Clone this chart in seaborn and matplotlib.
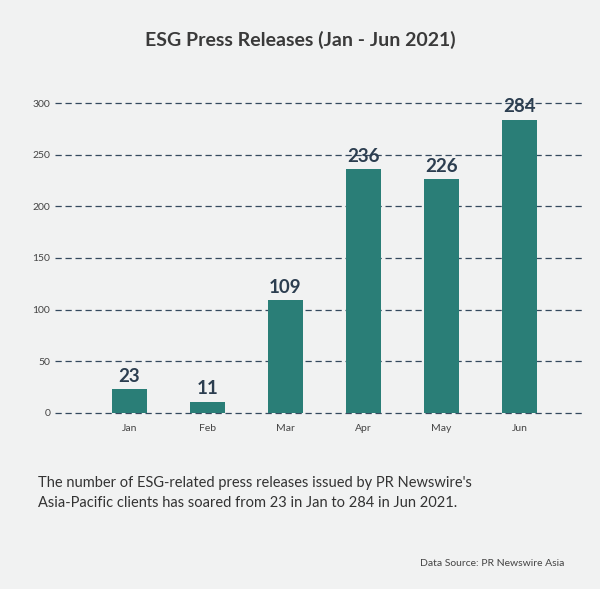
import matplotlib
matplotlib.use("Agg")
import matplotlib.pyplot as plt
import seaborn as sns
import pandas as pd

months = ["Jan", "Feb", "Mar", "Apr", "May", "Jun"]
releases = [23, 11, 109, 236, 226, 284]
y_ticks = [0, 50, 100, 150, 200, 250, 300]

BG = "#f1f2f2"
TEAL = "#2a7e77"
NAVY = "#2c3e50"

sns.set_style("white")
plt.rcParams["font.family"] = ["Lato", "DejaVu Sans"]

fig = plt.figure(figsize=(6.0, 5.89), dpi=100, facecolor=BG)
ax = fig.add_axes([0.092, 0.299, 0.878, 0.526], facecolor=BG)

df = pd.DataFrame({"month": months, "n": releases})
sns.barplot(data=df, x="month", y="n", color=TEAL, width=0.44, saturation=1,
            linewidth=0, ax=ax, zorder=3)

for i, v in enumerate(releases):
    ax.text(i, v + 4, str(v), ha="center", va="bottom", fontsize=13.5,
            fontweight="bold", color=NAVY, clip_on=False, zorder=4)

ax.set_ylim(0, 300)
ax.set_xlim(-0.95, 5.8)
ax.set_yticks(y_ticks)
for t in y_ticks:
    ax.axhline(t, color="#34495e", lw=0.9, ls=(0, (5, 3)), zorder=1, clip_on=False)
ax.tick_params(axis="both", length=0, labelsize=7.5, colors="#444444")
ax.tick_params(axis="x", pad=8)
ax.set_xlabel("")
ax.set_ylabel("")
sns.despine(ax=ax, left=True, bottom=True)

fig.text(0.5, 0.932, "ESG Press Releases (Jan - Jun 2021)", ha="center", va="center",
         fontsize=14, fontweight="bold", color="#3a3a3a")
fig.text(0.063, 0.163, "The number of ESG-related press releases issued by PR Newswire's\n"
         "Asia-Pacific clients has soared from 23 in Jan to 284 in Jun 2021.",
         ha="left", va="center", fontsize=10.5, color="#333333", linespacing=1.5)
fig.text(0.94, 0.044, "Data Source: PR Newswire Asia", ha="right", va="center",
         fontsize=7.5, color="#444444")

fig.savefig("out.png", dpi=100, facecolor=BG)
